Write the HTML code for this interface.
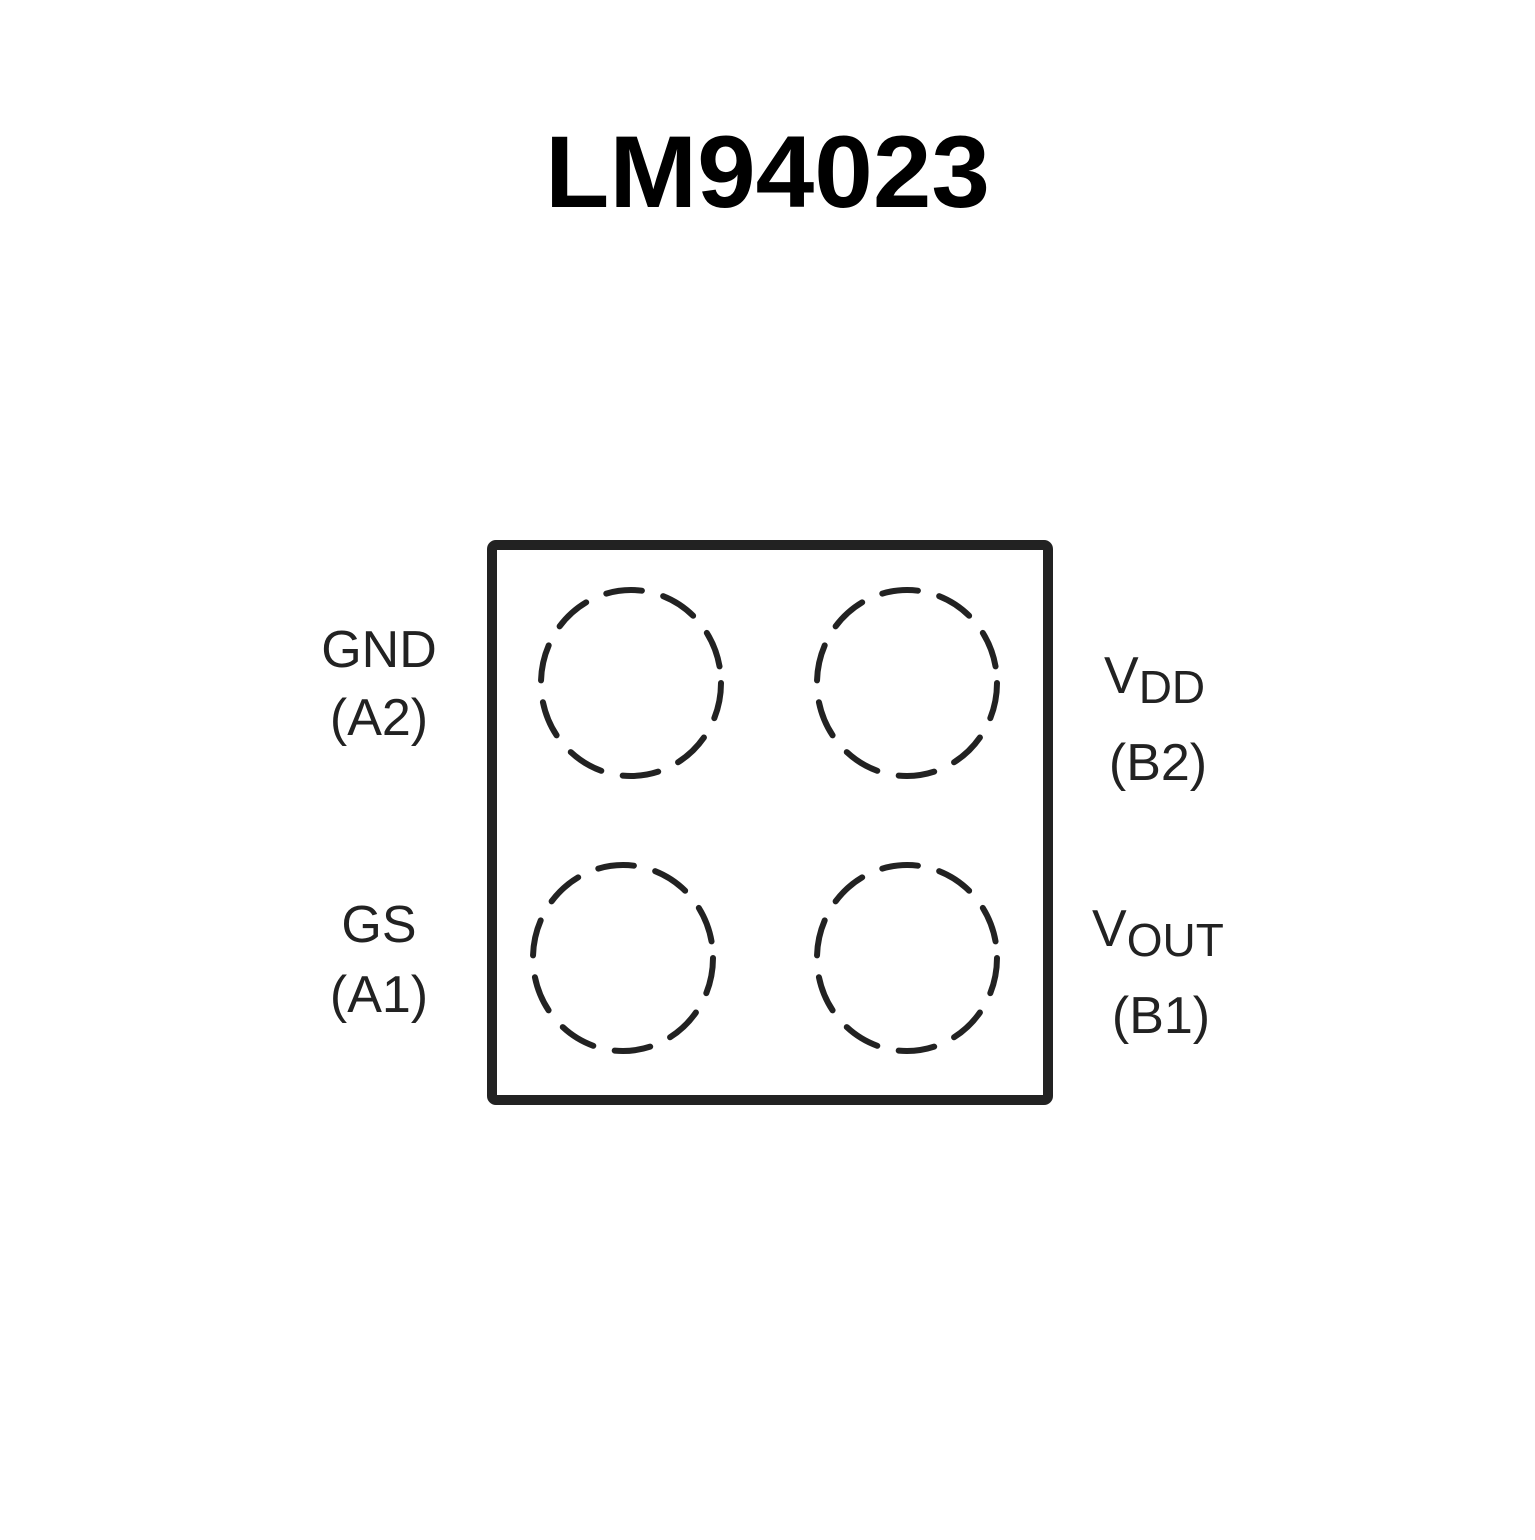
<!DOCTYPE html>
<html><head><style>body{margin:0;background:#fff}</style></head><body>
<svg width="1535" height="1535" xmlns="http://www.w3.org/2000/svg">
<text x="545" y="207" textLength="445" lengthAdjust="spacingAndGlyphs" font-family="Liberation Sans, sans-serif" font-weight="bold" font-size="102" fill="#000">LM94023</text>
<rect x="492" y="545" width="556" height="555" rx="4" fill="none" stroke="#222" stroke-width="10"/>
<g fill="none" stroke="#222" stroke-width="6" stroke-dasharray="36 22" stroke-linecap="round">
<ellipse cx="631" cy="683" rx="90" ry="93"/>
<ellipse cx="907" cy="683" rx="90" ry="93"/>
<ellipse cx="623" cy="958" rx="90" ry="93"/>
<ellipse cx="907" cy="958" rx="90" ry="93"/>
</g>
<g font-family="Liberation Sans, sans-serif" font-size="52" fill="#222" text-anchor="middle">
<text x="379" y="667">GND</text>
<text x="379" y="735">(A2)</text>
<text x="379" y="942">GS</text>
<text x="379" y="1012">(A1)</text>
<text x="1158" y="780">(B2)</text>
<text x="1161" y="1033">(B1)</text>
</g>
<g font-family="Liberation Sans, sans-serif" fill="#222">
<text x="1104" y="693" font-size="52">V<tspan font-size="46" dy="10">DD</tspan></text>
<text x="1092" y="946" font-size="52">V<tspan font-size="46" dy="10">OUT</tspan></text>
</g>
</svg>
</body></html>
